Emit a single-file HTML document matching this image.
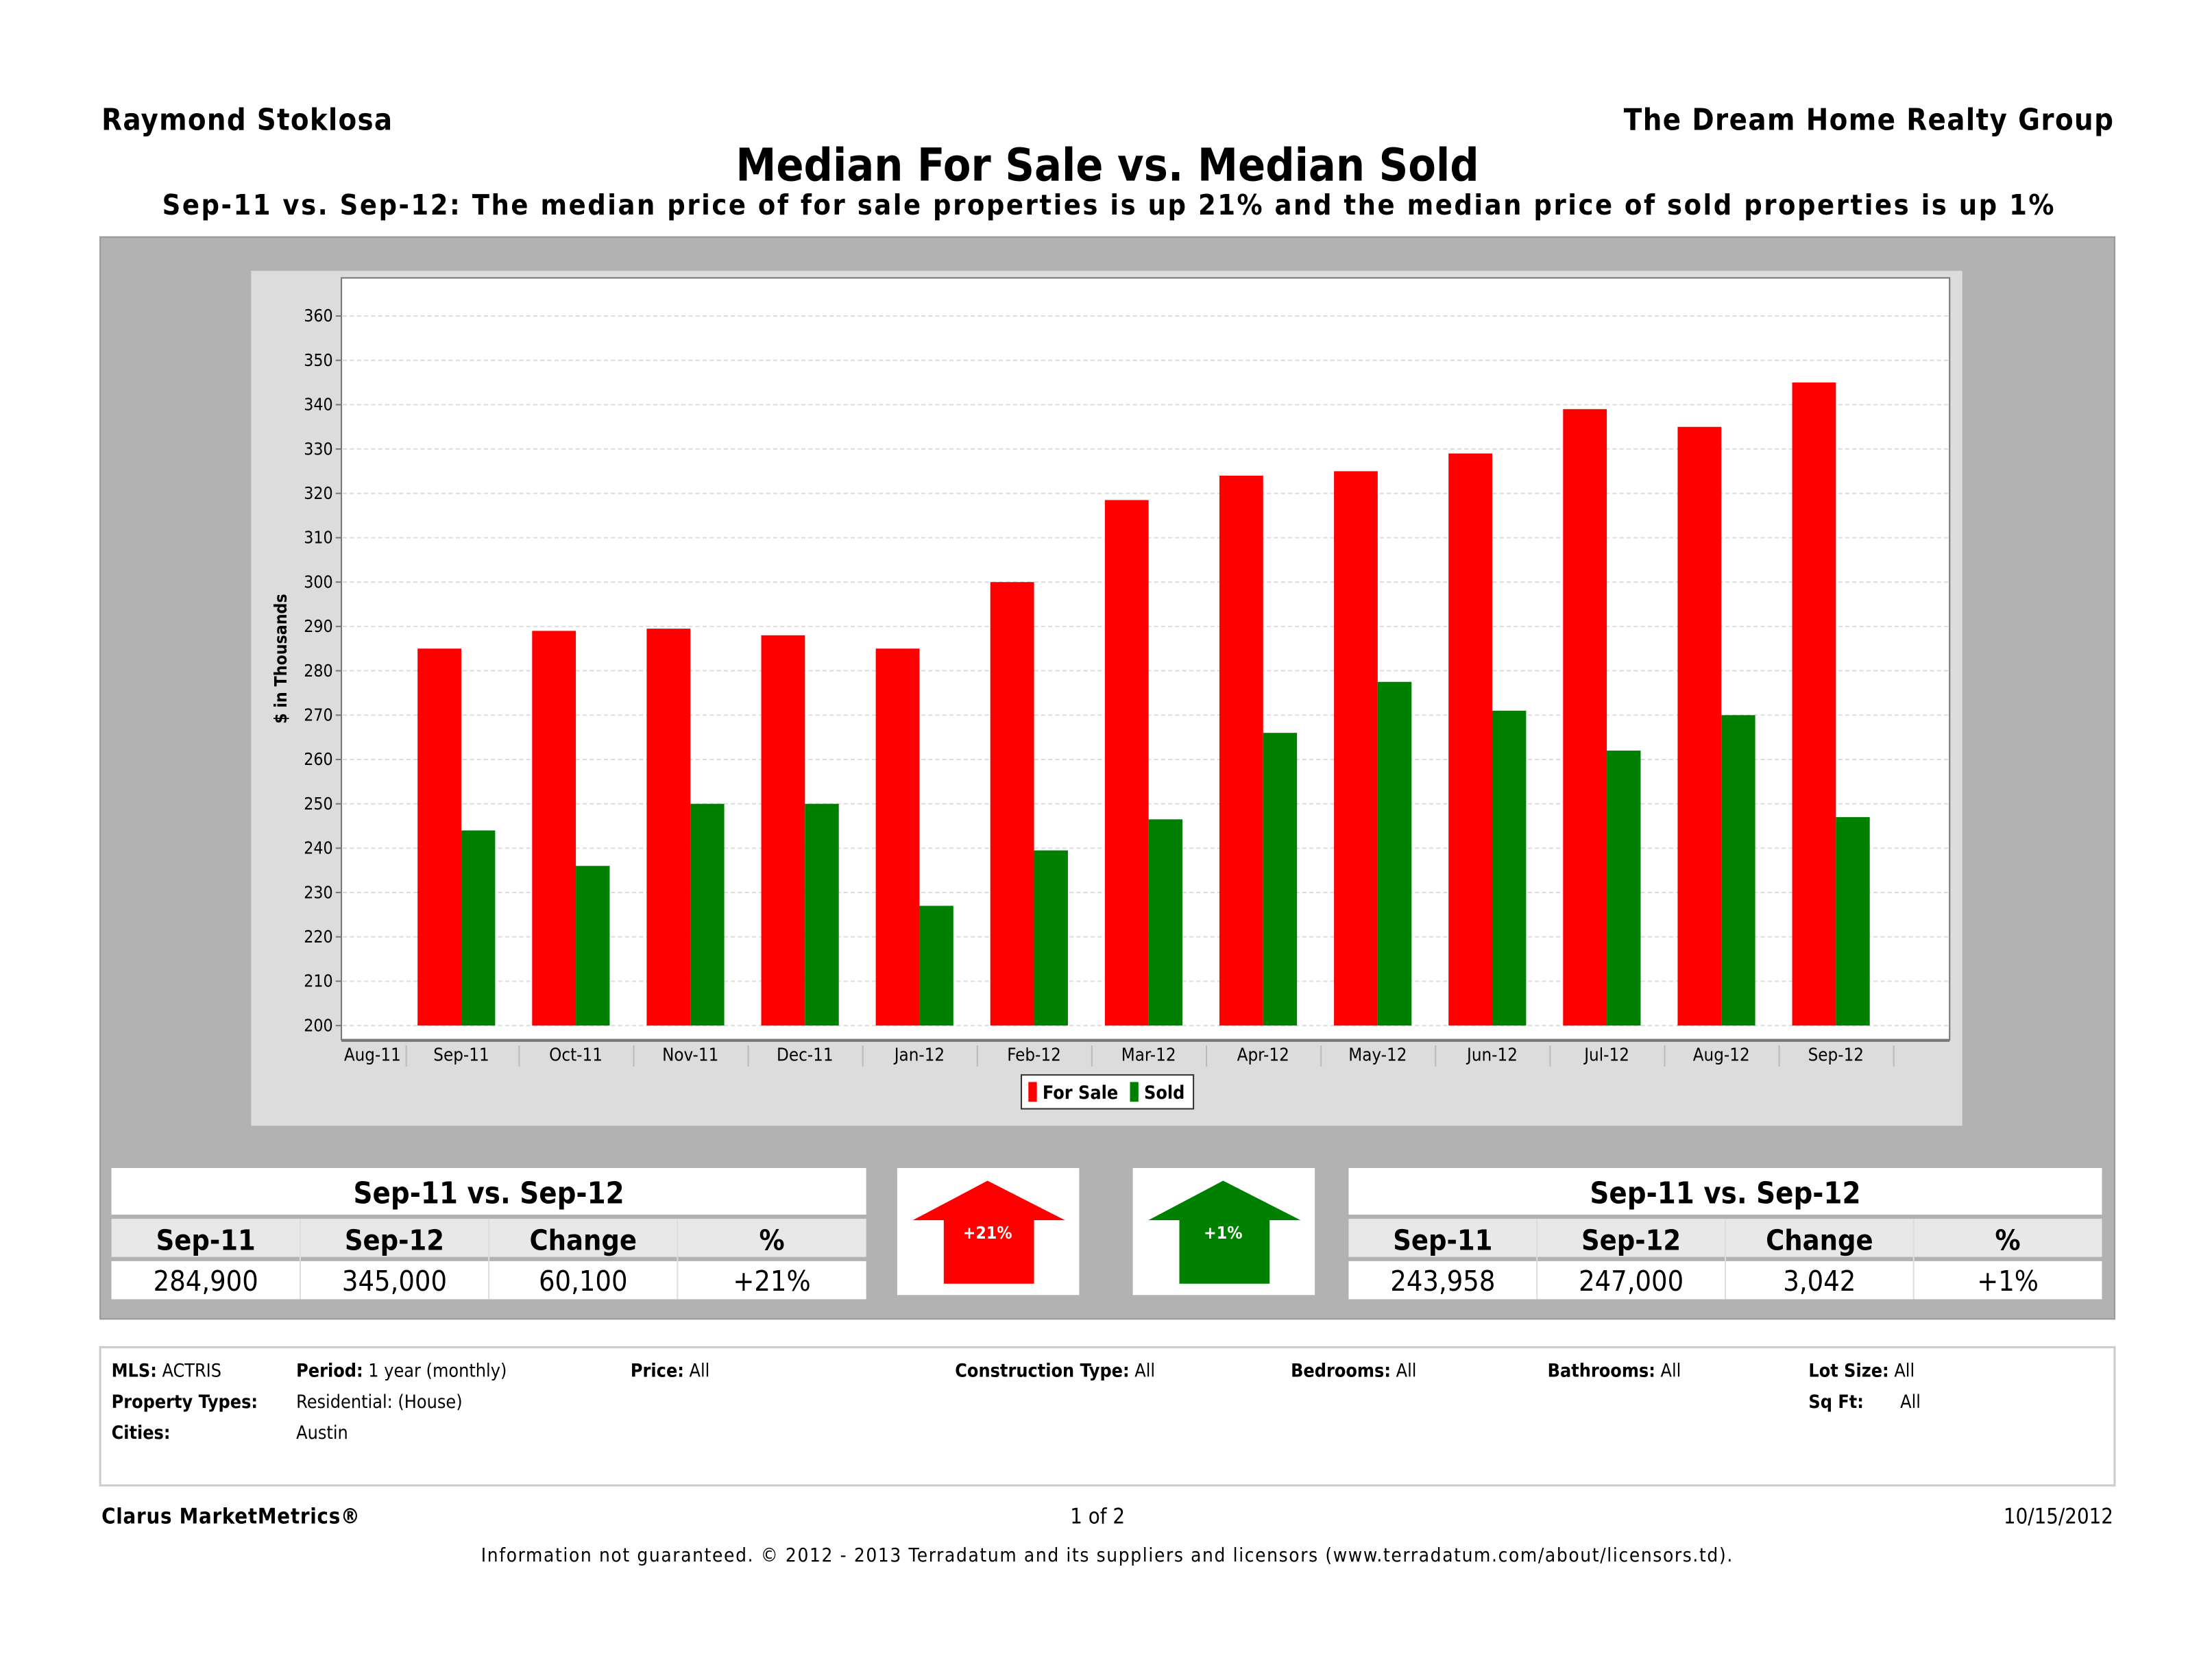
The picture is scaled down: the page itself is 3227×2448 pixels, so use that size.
<!DOCTYPE html>
<html><head><meta charset="utf-8"><style>
html,body{margin:0;padding:0;background:#fff;}
svg{display:block;font-family:"DejaVu Sans Condensed","Liberation Sans",sans-serif;}
</style></head><body>
<svg id="page" width="3227" height="2448" viewBox="0 0 1568 1189.5" preserveAspectRatio="none" xmlns="http://www.w3.org/2000/svg">
<rect width="1568" height="1189.5" fill="#fff"/>
<text x="72" y="92" font-size="21" font-weight="bold" textLength="206">Raymond Stoklosa</text>
<text x="1151" y="92" font-size="21" font-weight="bold" textLength="347">The Dream Home Realty Group</text>
<text x="785" y="128" font-size="32" font-weight="bold" text-anchor="middle">Median For Sale vs. Median Sold</text>
<text x="115" y="152" font-size="20" font-weight="bold" textLength="1341" lengthAdjust="spacing">Sep-11 vs. Sep-12:  The median price of for sale properties is up 21% and the median price of sold properties is up 1%</text>

<rect x="71" y="168" width="1428" height="767" fill="#b2b2b2" stroke="#999"/>
<rect x="178" y="192" width="1213" height="606" fill="#dcdcdc"/>
<rect x="242" y="197" width="1140" height="540" fill="#fff" stroke="#777" stroke-width="1"/>
<g id="grid"></g>
<g id="bars"></g>
<g id="xaxis"></g>
<text transform="translate(203,467) rotate(-90)" font-size="12" font-weight="bold" text-anchor="middle">$ in Thousands</text>
<g>
<rect x="724" y="762" width="122" height="24" fill="#fff" stroke="#333"/>
<rect x="729" y="767" width="6" height="14" fill="#f00"/>
<text x="739" y="779" font-size="13" font-weight="bold">For Sale</text>
<rect x="801" y="767" width="6" height="14" fill="#008000"/>
<text x="811" y="779" font-size="13" font-weight="bold">Sold</text>
</g>

<g id="table-left"></g>
<g id="table-right"></g>

<rect x="636" y="828" width="129" height="90" fill="#fff"/>
<polygon points="700,837 755,865 733,865 733,910 669,910 669,865 647,865" fill="#f00"/>
<text x="700" y="878" font-size="12" font-weight="bold" fill="#fff" text-anchor="middle">+21%</text>
<rect x="803" y="828" width="129" height="90" fill="#fff"/>
<polygon points="867,837 922,865 900,865 900,910 836,910 836,865 814,865" fill="#008000"/>
<text x="867" y="878" font-size="12" font-weight="bold" fill="#fff" text-anchor="middle">+1%</text>

<rect x="71" y="955" width="1428" height="98" fill="#fff" stroke="#ccc" stroke-width="1.5"/>
<g font-size="13">
<text x="79" y="976"><tspan font-weight="bold">MLS:</tspan> ACTRIS</text>
<text x="210" y="976"><tspan font-weight="bold">Period:</tspan> 1 year (monthly)</text>
<text x="447" y="976"><tspan font-weight="bold">Price:</tspan>  All</text>
<text x="677" y="976"><tspan font-weight="bold">Construction Type:</tspan> All</text>
<text x="915" y="976"><tspan font-weight="bold">Bedrooms:</tspan> All</text>
<text x="1097" y="976"><tspan font-weight="bold">Bathrooms:</tspan> All</text>
<text x="1282" y="976"><tspan font-weight="bold">Lot Size:</tspan> All</text>
<text x="79" y="998" font-weight="bold">Property Types:</text>
<text x="210" y="998">Residential: (House)</text>
<text x="1282" y="998" font-weight="bold">Sq Ft:</text>
<text x="1347" y="998">All</text>
<text x="79" y="1020" font-weight="bold">Cities:</text>
<text x="210" y="1020">Austin</text>
</g>
<text x="72" y="1080" font-size="15" font-weight="bold" textLength="183">Clarus MarketMetrics®</text>
<text x="778" y="1080" font-size="15" text-anchor="middle">1 of 2</text>
<text x="1498" y="1080" font-size="15" text-anchor="end">10/15/2012</text>
<text x="341" y="1107" font-size="13.5" textLength="887" lengthAdjust="spacing">Information not guaranteed.  © 2012 - 2013 Terradatum and its suppliers and licensors (www.terradatum.com/about/licensors.td).</text>
</svg>
<script>
const categories = ["Sep-11","Oct-11","Nov-11","Dec-11","Jan-12","Feb-12","Mar-12","Apr-12","May-12","Jun-12","Jul-12","Aug-12","Sep-12"];
const forSale = [285, 289, 289.5, 288, 285, 300, 318.5, 324, 325, 329, 339, 335, 345];
const sold = [244, 236, 250, 250, 227, 239.5, 246.5, 266, 277.5, 271, 262, 270, 247];
const yTicks = [200,210,220,230,240,250,260,270,280,290,300,310,320,330,340,350,360];
const leftTable = ["284,900","345,000","60,100","+21%"];
const rightTable = ["243,958","247,000","3,042","+1%"];
const tableHeaders = ["Sep-11","Sep-12","Change","%"];

const NS = "http://www.w3.org/2000/svg";
const yScale = v => 727 - (v - 200) * (727 - 224) / 160;
const xCenter = i => 324 + i * 81.2;
function mk(tag, attrs, parent, txt) {
  const e = document.createElementNS(NS, tag);
  for (const k in attrs) e.setAttribute(k, attrs[k]);
  if (txt !== undefined) e.textContent = txt;
  parent.appendChild(e);
  return e;
}
const grid = document.getElementById('grid');
yTicks.forEach(t => {
  const y = yScale(t);
  const l = mk('line', {x1:243, x2:1381, y1:y, y2:y, stroke:'#ddd', 'stroke-dasharray':'3,2'}, grid);
  
  
  mk('line', {x1:238, x2:242, y1:y, y2:y, stroke:'#777'}, grid);
  const tx = mk('text', {x:236, y:y+4, 'font-size':12, 'text-anchor':'end'}, grid, String(t));
  
  
});
const bars = document.getElementById('bars');
const base = yScale(200);
categories.forEach((c, i) => {
  const cx = xCenter(i);
  const r = mk('rect', {x:cx-28, y:yScale(forSale[i]), width:31, height:base-yScale(forSale[i]), fill:'#f00'}, bars);
  
  
  const g = mk('rect', {x:cx+3, y:yScale(sold[i]), width:24, height:base-yScale(sold[i]), fill:'#008000'}, bars);
  
  
});
const xa = document.getElementById('xaxis');
mk('line', {x1:242, x2:1382, y1:737.5, y2:737.5, stroke:'#777', 'stroke-width':2}, xa);
const allCats = ["Aug-11"].concat(categories);
allCats.forEach((c, j) => {
  const cx = j === 0 ? 264 : xCenter(j-1) + 3;
  const t = mk('text', {x:cx, y:752, 'font-size':12.5, 'text-anchor':'middle'}, xa, c);
  
  
  const sx = (j === 0 ? 288 : xCenter(j-1) + 44);
  mk('line', {x1:sx, x2:sx, y1:741, y2:756, stroke:'#bbb'}, xa);
});
function table(id, x0, w, vals) {
  const g = document.getElementById(id);
  mk('rect', {x:x0, y:828, width:w, height:33, fill:'#fff'}, g);
  const tt = mk('text', {x:x0+w/2, y:853, 'font-size':21, 'font-weight':'bold', 'text-anchor':'middle'}, g, 'Sep-11 vs. Sep-12');
  
  
  mk('rect', {x:x0, y:864, width:w, height:27, fill:'#e8e8e8'}, g);
  mk('rect', {x:x0, y:894, width:w, height:27, fill:'#fff'}, g);
  const cw = w / 4;
  tableHeaders.forEach((h, k) => {
    const cx = x0 + cw*k + cw/2;
    const th = mk('text', {x:cx, y:886, 'font-size':20, 'font-weight':'bold', 'text-anchor':'middle'}, g, h);
    
    
    const td = mk('text', {x:cx, y:915, 'font-size':20, 'text-anchor':'middle'}, g, vals[k]);
    
    
    if (k > 0) {
      mk('line', {x1:x0+cw*k, x2:x0+cw*k, y1:864, y2:921, stroke:'#ddd'}, g);
    }
  });
}
table('table-left', 79, 535, leftTable);
table('table-right', 956, 534, rightTable);
</script>
</body></html>
